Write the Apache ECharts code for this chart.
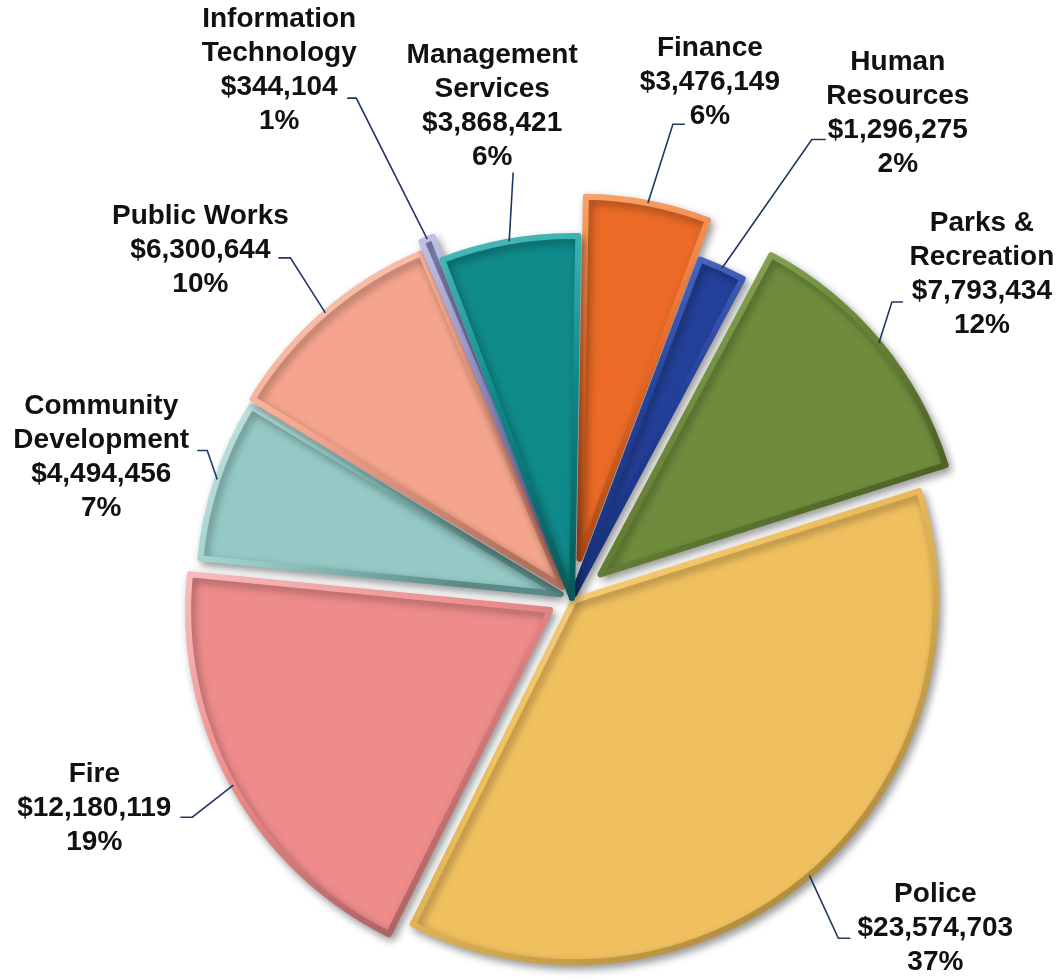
<!DOCTYPE html>
<html>
<head>
<meta charset="utf-8">
<title>General Fund Expenditures by Department</title>
<script src="https://cdn.jsdelivr.net/npm/echarts@6/dist/echarts.min.js"></script>
<style>
  html, body { margin: 0; padding: 0; background: #ffffff; }
  #chart { width: 1062px; height: 980px; }
</style>
</head>
<body>
<div id="chart"></div>
<script>
// Departments, clockwise from 12 o'clock
const departments = [
  'Finance',
  'Human\nResources',
  'Parks &\nRecreation',
  'Police',
  'Fire',
  'Community\nDevelopment',
  'Public Works',
  'Information\nTechnology',
  'Management\nServices'
];

// Budget per department (USD)
const budgets = [3476149, 1296275, 7793434, 23574703, 12180119, 4494456, 6300644, 344104, 3868421];

// Slice colours: body, bevel highlight, bevel shade
const fills      = ['#EA6A26', '#23409A', '#6F8C3D', '#F0C05F', '#EE8B8B', '#94C9C5', '#F5A58D', '#8D8DC4', '#0F8A8A'];
const highlights = ['#F9A36C', '#5674CC', '#A2C06E', '#FCE3A2', '#F9BDBD', '#CBE8E5', '#FCD3C0', '#C2C2E8', '#4DBDBA'];
const shades     = ['#A84814', '#132A6C', '#465D22', '#A9853A', '#A65C5C', '#5A8A86', '#B3725E', '#5A5A8E', '#085A5A'];

// Pie geometry
const CX = 572, CY = 598, R = 362, START = 89;

// How far each slice is pulled out from the centre (px)
const explode = [40, 0, 37, 3, 25, 12, 15, 25, 0];

// Leader line shape per slice: elbow vector from the slice edge, horizontal tail,
// and where the centre of the label block sits relative to the tail end
const leaders = [
  { elbow: [25, -79],   tail: 12,  off: [25, -42] },  // Finance
  { elbow: [90, -129],  tail: 14,  off: [72, -26] },  // Human Resources
  { elbow: [13, -41],   tail: 11,  off: [79, -28] },  // Parks & Recreation
  { elbow: [29, 63],    tail: 12,  off: [85, -10] },  // Police
  { elbow: [-41, 32],   tail: -12, off: [-86, -9] },  // Fire
  { elbow: [-10, -29],  tail: -10, off: [-96, 7] },   // Community Development
  { elbow: [-35, -55],  tail: -12, off: [-78, -8] },  // Public Works
  { elbow: [-71, -141], tail: -9,  off: [-68, -28] }, // Information Technology
  { elbow: [4, -69],    tail: 0,   off: [-21, -66] }  // Management Services
];

const FONT = '"Liberation Sans", Arial, Helvetica, sans-serif';
const blank = { color: 'rgba(0,0,0,0)', borderWidth: 0, shadowBlur: 0, shadowColor: 'rgba(0,0,0,0)' };

function sliceStyle(j) {
  return {
    color: fills[j],
    borderColor: new echarts.graphic.LinearGradient(0, 0, 0.7, 1, [
      { offset: 0, color: highlights[j] },
      { offset: 0.45, color: fills[j] },
      { offset: 1, color: shades[j] }
    ]),
    borderWidth: 6,
    borderJoin: 'round',
    shadowBlur: 8,
    shadowColor: 'rgba(0,0,0,0.35)',
    shadowOffsetX: 3,
    shadowOffsetY: 4
  };
}

function richLines(text) {
  return text.split('\n').map(function (s) { return '{t|' + s + '}'; }).join('\n');
}

const chart = echarts.init(document.getElementById('chart'), null, { renderer: 'canvas' });

// One pie layer per department so each slice can carry its own pull-out distance
const sliceSeries = departments.map(function (_, i) {
  const style = sliceStyle(i);
  return {
    type: 'pie',
    center: [CX, CY],
    radius: [0, R],
    startAngle: START,
    clockwise: true,
    selectedMode: 'multiple',
    selectedOffset: explode[i],
    silent: true,
    animation: false,
    z: 2,
    label: { show: false },
    labelLine: { show: false },
    emphasis: { disabled: true },
    select: { itemStyle: style },
    data: departments.map(function (name, j) {
      return {
        name: name,
        value: budgets[j],
        selected: j === i,
        itemStyle: j === i ? style : blank,
        select: { itemStyle: j === i ? style : blank }
      };
    })
  };
});

// Transparent layer that carries the value labels and leader lines
const labelSeries = {
  type: 'pie',
  center: [CX, CY],
  radius: [0, R],
  startAngle: START,
  clockwise: true,
  silent: true,
  animation: false,
  z: 5,
  percentPrecision: 0,
  avoidLabelOverlap: false,
  itemStyle: blank,
  emphasis: { disabled: true },
  label: {
    show: true,
    position: 'outside',
    color: '#111111',
    fontFamily: FONT,
    fontWeight: 'bold',
    fontSize: 28,
    lineHeight: 34,
    formatter: function (p) {
      return richLines(p.name + '\n$' + echarts.format.addCommas(p.value) + '\n' + p.percent + '%');
    },
    rich: {
      t: { align: 'center', color: '#111111', fontFamily: FONT, fontWeight: 'bold', fontSize: 28, lineHeight: 34 }
    }
  },
  labelLine: {
    show: true,
    length: 10,
    length2: 10,
    lineStyle: { color: '#1F3864', width: 1.6 }
  },
  labelLayout: function (p) {
    const i = p.dataIndex;
    const L = leaders[i];
    const a = p.labelLinePoints[0];
    const ux = a[0] - CX, uy = a[1] - CY;
    const n = Math.hypot(ux, uy) || 1;
    const s = [a[0] + ux / n * explode[i], a[1] + uy / n * explode[i]];
    const e = [s[0] + L.elbow[0], s[1] + L.elbow[1]];
    const t = [e[0] + L.tail, e[1]];
    return {
      x: t[0] + L.off[0],
      y: t[1] + L.off[1],
      align: 'center',
      verticalAlign: 'middle',
      labelLinePoints: [s, e, t]
    };
  },
  data: departments.map(function (name, j) {
    return { name: name, value: budgets[j] };
  })
};

chart.setOption({
  backgroundColor: '#ffffff',
  animation: false,
  series: sliceSeries.concat([labelSeries])
});
</script>
</body>
</html>
